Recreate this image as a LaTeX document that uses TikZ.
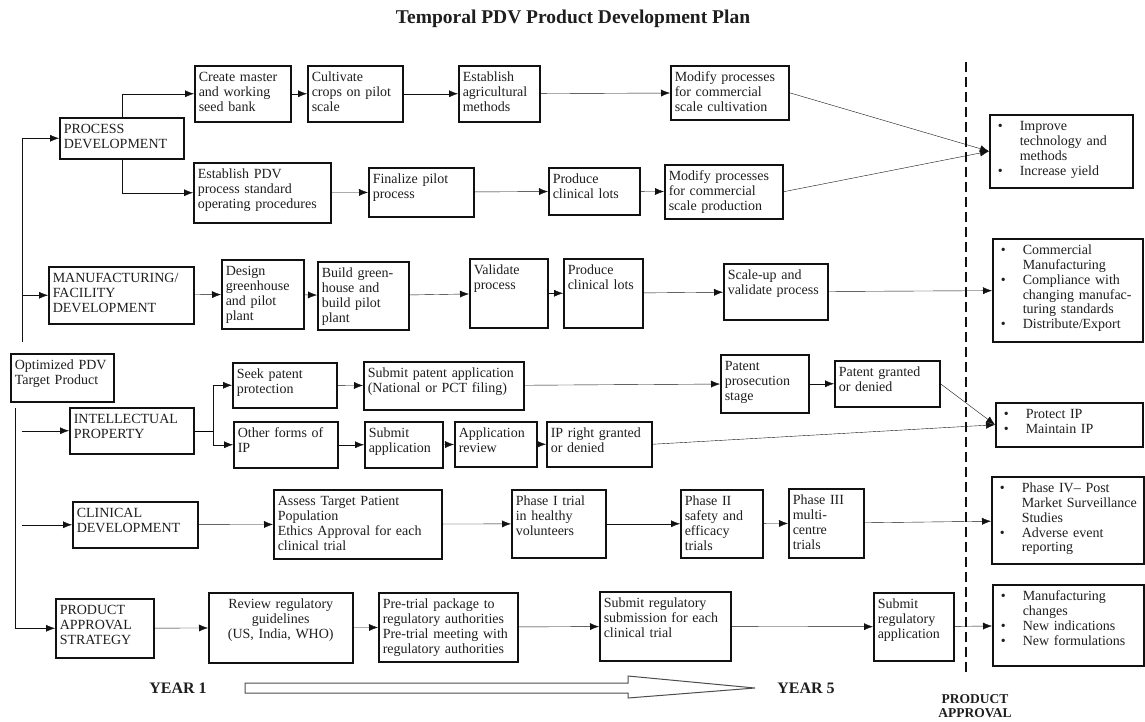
\documentclass[tikz,border=0pt]{standalone}
\usepackage{fontspec}
\setmainfont{Liberation Serif}
\usetikzlibrary{arrows.meta,calc,positioning}
\definecolor{ink}{HTML}{1E1E1E}
\definecolor{frame}{HTML}{111111}
\newcommand\bul{\makebox[26pt][l]{\hspace{4pt}\textbullet}}
\newcommand\ind{\hspace*{26pt}}
\tikzset{>={Latex[length=9pt,width=7pt]},line width=1.3pt,
  every node/.style={font=\fontsize{14}{14.8}\selectfont,text=ink},
  card/.style 2 args={draw=frame,line width=1.5pt,anchor=north west,
    inner xsep=4pt,inner ysep=0pt,align=left,text width=#1pt,
    text height=16pt,text depth=#2pt},
  flow/.style={->,draw=frame},
  heading/.style={font=\bfseries\fontsize{16}{16}\selectfont},
  cutoff/.style={draw=frame,line width=2.6pt,dash pattern=on 10pt off 5pt}}

\begin{document}
\begin{tikzpicture}[x=1pt,y=-1pt]
\useasboundingbox (0,0) rectangle (1145,721);
\node[heading,font=\bfseries\fontsize{19.5}{19.5}\selectfont] (title) at (573,19) {Temporal PDV Product Development Plan};
\draw[cutoff] (966,62) -- (966,676);
% process development
\node[card={116}{25}] (procdev) at (59,117) {PROCESS\\DEVELOPMENT};
\node[card={88}{40}] (master) at (194,65) {Create master\\and working\\seed bank};
\node[card={87}{40}] (crops) at (307,65) {Cultivate\\crops on pilot\\scale};
\node[card={73}{40}] (agri) at (458,65) {Establish\\agricultural\\methods};
\node[card={110}{38}] (modcult) at (670,65) {Modify processes\\for commercial\\scale cultivation};
\node[card={129}{44}] (pdvsop) at (193,162) {Establish PDV\\process standard\\operating procedures};
\node[card={97}{33}] (finalize) at (368,167) {Finalize pilot\\process};
\node[card={83}{31}] (lotsa) at (548,167) {Produce\\clinical lots};
\node[card={110}{38}] (modprod) at (664,164) {Modify processes\\for commercial\\scale production};
\node[card={135}{57}] (improve) at (989,114) {\bul Improve\\\ind technology and\\\ind methods\\\bul Increase yield};
% manufacturing
\node[card={137}{41}] (mfg) at (48,266) {MANUFACTURING/\\FACILITY\\DEVELOPMENT};
\node[card={74}{53}] (design) at (221,259) {Design\\greenhouse\\and pilot\\plant};
\node[card={83}{52}] (build) at (317,261) {Build green-\\house and\\build pilot\\plant};
\node[card={70}{53}] (validate) at (469,258) {Validate\\process};
\node[card={71}{53}] (lotsb) at (563,258) {Produce\\clinical lots};
\node[card={96}{40}] (scaleup) at (723,263) {Scale-up and\\validate process};
\node[card={142}{87}] (commercial) at (992,238) {\bul Commercial\\\ind Manufacturing\\\bul Compliance with\\\ind changing manufac-\\\ind turing standards\\\bul Distribute/Export};
% target product
\node[card={95}{32}] (target) at (10,353) {Optimized PDV\\Target Product};
% intellectual property
\node[card={116}{30}] (ip) at (69,407) {INTELLECTUAL\\PROPERTY};
\node[card={96}{29}] (seek) at (232,362) {Seek patent\\protection};
\node[card={152}{32}] (patapp) at (363,361) {Submit patent application\\(National or PCT filing)};
\node[card={80}{42}] (prosec) at (720,354) {Patent\\prosecution\\stage};
\node[card={97}{30}] (granted) at (834,360) {Patent granted\\or denied};
\node[card={139}{28}] (protect) at (995,402) {\bul Protect IP\\\bul Maintain IP};
\node[card={96}{30}] (other) at (233,421) {Other forms of\\IP};
\node[card={70}{30}] (subapp) at (364,421) {Submit\\application};
\node[card={74}{29}] (review) at (454,421) {Application\\review};
\node[card={97}{29}] (ipright) at (546,421) {IP right granted\\or denied};
% clinical
\node[card={117}{30}] (clin) at (72,501) {CLINICAL\\DEVELOPMENT};
\node[card={160}{53}] (assess) at (273,489) {Assess Target Patient\\Population\\Ethics Approval for each\\clinical trial};
\node[card={86}{52}] (phone) at (511,489) {Phase I trial\\in healthy\\volunteers};
\node[card={74}{52}] (phtwo) at (680,489) {Phase II\\safety and\\efficacy\\trials};
\node[card={67}{53}] (phthree) at (788,488) {Phase III\\multi-\\centre\\trials};
\node[card={144}{71}] (phfour) at (991,476) {\bul Phase IV-- Post\\\ind Market Surveillance\\\ind Studies\\\bul Adverse event\\\ind reporting};
% product approval
\node[card={90}{43}] (pas) at (55,598) {PRODUCT\\APPROVAL\\STRATEGY};
\node[card={136}{54},align=center] (regrev) at (208,592) {Review regulatory\\guidelines\\(US, India, WHO)};
\node[card={131}{53}] (pretrial) at (378,592) {Pre-trial package to\\regulatory authorities\\Pre-trial meeting with\\regulatory authorities};
\node[card={123}{53}] (regsub) at (599,591) {Submit regulatory\\submission for each\\clinical trial};
\node[card={72}{52}] (regapp) at (873,592) {Submit\\regulatory\\application};
\node[card={143}{65}] (changes) at (992,584) {\bul Manufacturing\\\ind changes\\\bul New indications\\\bul New formulations};
% spines
\coordinate (upfoot) at (22,342);
\coordinate (lowhead) at (15,408);
\coordinate (ipfork) at ([xshift=19pt]ip.east);
\draw[flow] (upfoot) |- (procdev.west);
\draw[flow] (upfoot |- mfg.west) -- (mfg.west);
\draw[flow] (upfoot |- ip.west) -- (ip.west);
\draw[flow] (upfoot |- clin.west) -- (clin.west);
\draw[flow] (lowhead) |- (pas.west);
\draw[flow] (procdev.north) |- (master.west);
\draw[flow] (procdev.south) |- (pdvsop.west);
\draw (ip.east) -- (ipfork);
\draw[flow] (ipfork) |- (seek.west);
\draw[flow] (ipfork) |- (other.west);
% rows
\draw[flow] (master) -- (crops);
\draw[flow] (crops) -- (agri);
\draw[flow] (agri) -- (modcult);
\draw[flow] (pdvsop) -- (finalize);
\draw[flow] (finalize) -- (lotsa);
\draw[flow] (lotsa) -- (modprod);
\draw[flow] (modcult.east) -- (improve.west);
\draw[flow] (modprod.east) -- (improve.west);
\draw[flow] (mfg) -- (design);
\draw[flow] (design) -- (build);
\draw[flow] (build) -- (validate);
\draw[flow] (validate) -- (lotsb);
\draw[flow] (lotsb) -- (scaleup);
\draw[flow] (scaleup) -- (commercial);
\draw[flow] (seek) -- (patapp);
\draw[flow] (patapp) -- (prosec);
\draw[flow] (prosec) -- (granted);
\draw[flow] (granted.east) -- (protect.west);
\draw[flow] (other) -- (subapp);
\draw[flow] (subapp) -- (review);
\draw[flow] (review) -- (ipright);
\draw[flow] (ipright.east) -- (protect.west);
\draw[flow] (clin) -- (assess);
\draw[flow] (assess) -- (phone);
\draw[flow] (phone) -- (phtwo);
\draw[flow] (phtwo) -- (phthree);
\draw[flow] (phthree) -- (phfour);
\draw[flow] (pas) -- (regrev);
\draw[flow] (regrev) -- (pretrial);
\draw[flow] (pretrial) -- (regsub);
\draw[flow] (regsub) -- (regapp);
\draw[flow] (regapp) -- (changes);
% time line
\draw[draw=black!70,line width=1pt] (245,683) -- (628,683) -- (628,676) -- (755,688) -- (628,698) -- (628,693) -- (245,693) -- cycle;
\node[heading] (yearone) at (178,688) {YEAR 1};
\node[heading] (yearfive) at (806,688) {YEAR 5};
\node[heading,align=center,font=\bfseries\fontsize{13.5}{14}\selectfont] (approval) at (975,706) {PRODUCT\\APPROVAL};
\end{tikzpicture}
\end{document}
